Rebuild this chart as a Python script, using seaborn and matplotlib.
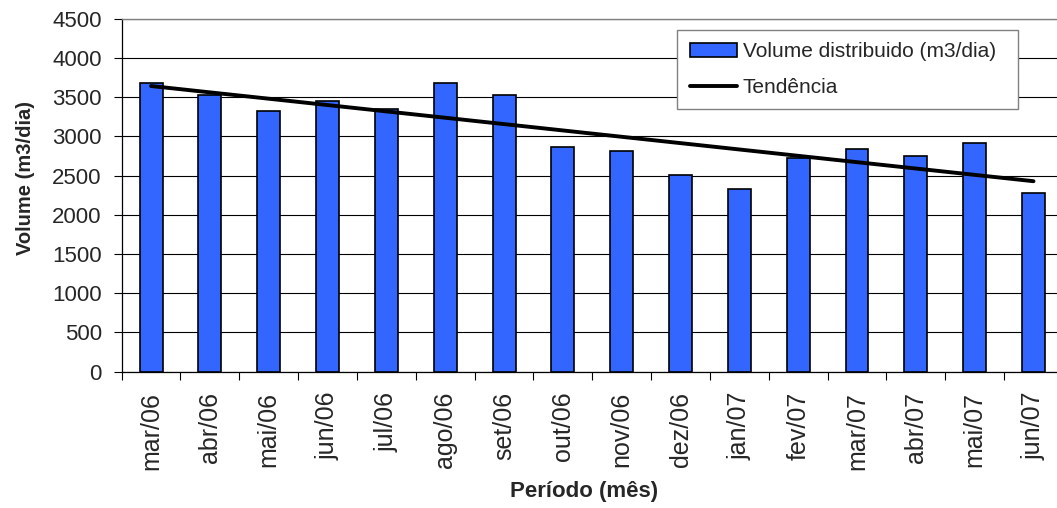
import numpy as np
import pandas as pd
import matplotlib
matplotlib.use("Agg")
import matplotlib.pyplot as plt
import seaborn as sns
from matplotlib.ticker import FixedLocator, NullFormatter, FixedFormatter

# Monthly distributed volume (m3/day)
months = ["mar/06", "abr/06", "mai/06", "jun/06", "jul/06", "ago/06", "set/06", "out/06",
          "nov/06", "dez/06", "jan/07", "fev/07", "mar/07", "abr/07", "mai/07", "jun/07"]
volume = [3680, 3530, 3325, 3455, 3350, 3680, 3530, 2870,
          2820, 2510, 2335, 2720, 2840, 2745, 2920, 2280]
y_ticks = [0, 500, 1000, 1500, 2000, 2500, 3000, 3500, 4000, 4500]

sns.set_style("white")
plt.rcParams["font.family"] = ["Liberation Sans", "DejaVu Sans"]

df = pd.DataFrame({"mes": months, "volume": volume})
pos = np.arange(len(months))

# Linear trend fitted to the monthly values
coef = np.polyfit(pos, df["volume"], 1)
trend = np.polyval(coef, pos)

fig = plt.figure(figsize=(10.57, 5.08), dpi=100)
ax = fig.add_axes([0.1151, 0.2687, 0.8905, 0.6939])

sns.barplot(data=df, x="mes", y="volume", color="#3366FF", saturation=1,
            width=0.39, edgecolor="black", linewidth=1.2, ax=ax, zorder=3,
            label="Volume distribuido (m3/dia)")
sns.lineplot(x=pos, y=trend, color="black", linewidth=2.8, ax=ax, zorder=4,
             label="Tendência")

ax.set_xlim(-0.5, len(months) - 0.5)
ax.set_ylim(0, 4500)
ax.set_yticks(y_ticks)
ax.yaxis.grid(True, color="black", linewidth=0.8)
ax.set_axisbelow(True)

# category boundaries carry the tick marks, centers carry the labels
ax.xaxis.set_major_locator(FixedLocator(np.arange(-0.5, len(months), 1.0)))
ax.xaxis.set_major_formatter(NullFormatter())
ax.xaxis.set_minor_locator(FixedLocator(pos))
ax.xaxis.set_minor_formatter(FixedFormatter(months))
ax.tick_params(axis="x", which="major", direction="out", length=5.4, width=0.8,
               color="black", bottom=True)
ax.tick_params(axis="x", which="minor", length=0, pad=14.5, labelsize=18,
               labelrotation=90, bottom=True)
ax.tick_params(axis="y", direction="out", length=5.8, width=0.8, color="black",
               pad=8.5, labelsize=16, left=True)

for side in ["left", "bottom"]:
    ax.spines[side].set_color("black")
    ax.spines[side].set_linewidth(0.9)
for side in ["top", "right"]:
    ax.spines[side].set_visible(True)
    ax.spines[side].set_color("#808080")
    ax.spines[side].set_linewidth(1.0)

ax.set_xlabel("Período (mês)", fontsize=16, fontweight="bold")
ax.set_ylabel("Volume (m3/dia)", fontsize=14.5, fontweight="bold")
ax.xaxis.set_label_coords(0.491, -0.340)
ax.xaxis.label.set_va("center")
ax.yaxis.set_label_coords(-0.102, 0.549)
ax.yaxis.label.set_va("center")

handles, labels = ax.get_legend_handles_labels()
order = [labels.index("Volume distribuido (m3/dia)"), labels.index("Tendência")]
leg = ax.legend([handles[i] for i in order], [labels[i] for i in order],
                loc="center", bbox_to_anchor=(0.590, 0.745, 0.362, 0.224),
                mode="expand", fontsize=15, frameon=True, fancybox=False,
                edgecolor="#808080", framealpha=1, handlelength=2.3,
                handleheight=0.65, handletextpad=0.25, labelspacing=0.8,
                borderpad=0.6, borderaxespad=0)
leg.get_frame().set_linewidth(1.0)

fig.savefig("out.png", dpi=100)
